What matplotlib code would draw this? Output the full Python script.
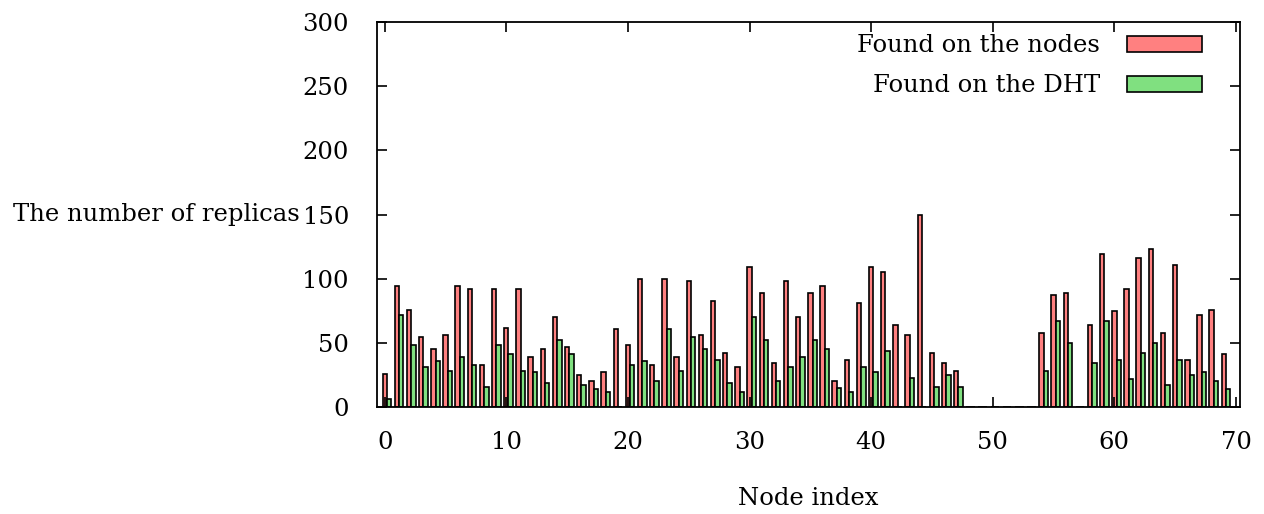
import numpy as np
import matplotlib
matplotlib.use("Agg")
import matplotlib.pyplot as plt
from matplotlib.ticker import MultipleLocator

plt.rcParams['font.family'] = ['DejaVu Serif']

# replicas per node (node index 0..69)
found_nodes = [26, 94, 76, 55, 45, 56, 94, 92, 33, 92,
               62, 92, 39, 45, 70, 47, 25, 20, 27, 61,
               48, 100, 33, 100, 39, 98, 56, 83, 42, 31,
               109, 89, 34, 98, 70, 89, 94, 20, 37, 81,
               109, 105, 64, 56, 150, 42, 34, 28, 0, 0,
               0, 0, 0, 0, 58, 87, 89, 0, 64, 119,
               75, 92, 116, 123, 58, 111, 37, 72, 76, 41]
found_dht = [6, 72, 48, 31, 36, 28, 39, 33, 16, 48,
             41, 28, 27, 19, 52, 41, 17, 14, 12, 0,
             33, 36, 20, 61, 28, 55, 45, 37, 19, 12,
             70, 52, 20, 31, 39, 52, 45, 15, 12, 31,
             27, 44, 0, 23, 0, 16, 25, 16, 0, 0,
             0, 0, 0, 0, 28, 67, 50, 0, 34, 67,
             37, 22, 42, 50, 17, 37, 25, 27, 20, 14]
labels = ["Found on the nodes", "Found on the DHT"]
colors = ["#ff8080", "#80e080"]


def main():
    x = np.arange(len(found_nodes))
    w = 0.36
    fs = 17.5
    fig = plt.figure(figsize=(12.64, 5.14), dpi=100)
    ax = fig.add_axes([0.298, 0.208, 0.683, 0.749])

    ax.bar(x, found_nodes, width=w, color=colors[0], edgecolor="black",
           linewidth=1.2, label=labels[0])
    ax.bar(x + w, found_dht, width=w, color=colors[1], edgecolor="black",
           linewidth=1.2, label=labels[1])

    ax.set_xlim(-0.66, 70.33)
    ax.set_ylim(0, 300)
    ax.xaxis.set_major_locator(MultipleLocator(10))
    ax.yaxis.set_major_locator(MultipleLocator(50))
    ax.tick_params(direction="in", top=True, right=True, length=7,
                   width=1.2, labelsize=fs)
    ax.tick_params(axis="x", pad=17)
    ax.tick_params(axis="y", pad=20)
    for s in ax.spines.values():
        s.set_linewidth(1.3)

    ax.set_xlabel("Node index", fontsize=fs, labelpad=24)
    ax.set_ylabel("The number of replicas", fontsize=fs, rotation=0,
                  ha="right", va="center")
    ax.yaxis.set_label_coords(-0.089, 0.5)

    ax.legend(loc="upper right", bbox_to_anchor=(0.956, 0.968),
              frameon=False, markerfirst=False, fontsize=fs,
              handlelength=3.1, handleheight=0.65, handletextpad=1.1,
              labelspacing=0.7, borderaxespad=0, borderpad=0)

    fig.savefig("out.png", dpi=100)


if __name__ == '__main__':
    main()
